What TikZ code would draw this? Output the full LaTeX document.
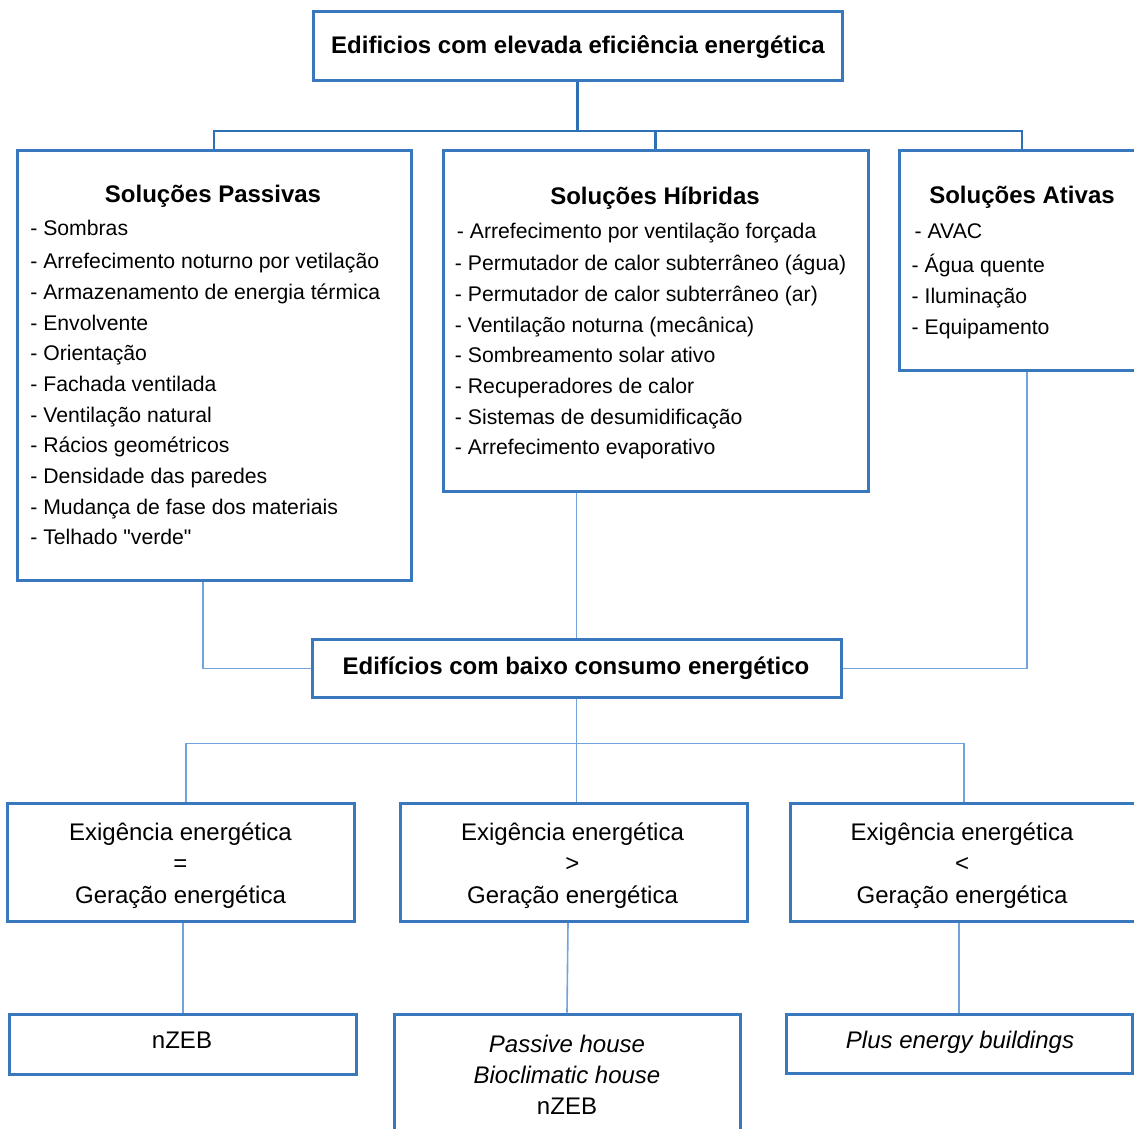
\documentclass[tikz,border=0pt]{standalone}
\usepackage{fontspec}
\setmainfont{Liberation Sans}
\newfontfamily\straightfont{Liberation Sans}

\tikzset{every picture/.style={line width=0.75pt}}
\tikzset{
  box/.style={draw={rgb, 255:red, 58; green, 120; blue, 190 }, line width=3pt, rectangle, inner sep=0pt},
  busline/.style={draw={rgb, 255:red, 46; green, 112; blue, 182 }, line width=2.5pt},
  thinline/.style={draw={rgb, 255:red, 112; green, 164; blue, 218 }, line width=1.6pt},
  head/.style={font=\bfseries\fontsize{24}{29}\selectfont, inner sep=0pt, anchor=base},
  items/.style={font=\fontsize{21.2}{30.7}\selectfont, inner sep=0pt, anchor=base west, align=left},
  plain/.style={font=\fontsize{24}{31.5}\selectfont, inner sep=0pt, anchor=base, align=center}
}

\begin{document}
\begin{tikzpicture}[x=1pt,y=1pt,yscale=-1,xscale=1]
\path[use as bounding box] (0,0) rectangle (1134,1128);
\clip (0,0) rectangle (1134,1128);

%Shape: Rectangle [top]
\node[box, minimum width=529pt, minimum height=69pt] (tbox) at (577.5,45.5) {};
%Shape: Rectangle [solucoes]
\node[box, minimum width=394pt, minimum height=430pt] (pbox) at (214,365) {};
\node[box, minimum width=425pt, minimum height=341pt] (hbox) at (655.5,320.5) {};
\node[box, minimum width=246pt, minimum height=220pt] (abox) at (1022,260) {};
%Shape: Rectangle [baixo consumo]
\node[box, minimum width=529pt, minimum height=58pt] (mbox) at (576.5,668.5) {};
%Shape: Rectangle [exigencia]
\node[box, minimum width=347pt, minimum height=118pt] (ebox1) at (181,862.5) {};
\node[box, minimum width=347pt, minimum height=118pt] (ebox2) at (573.5,862.5) {};
\node[box, minimum width=352pt, minimum height=118pt] (ebox3) at (966,862.5) {};
%Shape: Rectangle [resultados]
\node[box, minimum width=347pt, minimum height=60pt] (rbox1) at (183,1044) {};
\node[box, minimum width=346pt, minimum height=130pt] (rbox2) at (567,1079) {};
\node[box, minimum width=346pt, minimum height=59pt] (rbox3) at (959,1043.5) {};

% Text Node
\node[head] (ttxt) at (578,53) {Edificios com elevada eficiência energética};
% Text Node
\node[head] (ptitle) at (213,202) {Soluções Passivas};
% Text Node
\node[head] (htitle) at (655,204) {Soluções Híbridas};
% Text Node
\node[head] (atitle) at (1022,203) {Soluções Ativas};
% Text Node (base = last line)
\node[items] (plist) at (30,544.9) {- Sombras\\[2.3pt]
  - Arrefecimento noturno por vetilação\\
  - Armazenamento de energia térmica\\
  - Envolvente\\
  - Orientação\\
  - Fachada ventilada\\
  - Ventilação natural\\
  - Rácios geométricos\\
  - Densidade das paredes\\
  - Mudança de fase dos materiais\\
  - Telhado {\straightfont"}verde{\straightfont"}};
% Text Node
\node[items] (hlist) at (454.6,454.8) {\hspace*{2pt}- Arrefecimento por ventilação forçada\\[1.3pt]
  - Permutador de calor subterrâneo (água)\\
  - Permutador de calor subterrâneo (ar)\\
  - Ventilação noturna (mecânica)\\
  - Sombreamento solar ativo\\
  - Recuperadores de calor\\
  - Sistemas de desumidificação\\
  - Arrefecimento evaporativo};
% Text Node
\node[items] (alist) at (911.3,334) {\hspace*{3pt}- AVAC\\[3.3pt]
  - Água quente\\
  - Iluminação\\
  - Equipamento};
% Text Node
\node[head] (mtxt) at (576,674) {Edifícios com baixo consumo energético};
% Text Node
\node[plain] (e1txt) at (180.5,903) {Exigência energética\\=\\Geração energética};
\node[plain] (e2txt) at (572.5,903) {Exigência energética\\>\\Geração energética};
\node[plain] (e3txt) at (962,903) {Exigência energética\\<\\Geração energética};
% Text Node
\node[plain] (r1txt) at (182,1048) {nZEB};
\node[plain, font=\fontsize{24}{31}\selectfont] (r2txt) at (567,1114) {\textit{Passive house}\\\textit{Bioclimatic house}\\nZEB};
\node[plain] (r3txt) at (960,1048) {\textit{Plus energy buildings}};

% Connectors top
\coordinate (tbus) at (577.5,131);
\draw[busline] (tbox.south) -- (tbus);
\draw[busline] (pbox.north) |- (abox.north |- tbus) -- (abox.north);
\draw[busline] (hbox.north) -- (hbox.north |- tbus);

% Connectors middle
\draw[thinline] ([xshift=-11pt]pbox.south) |- (mbox.west);
\draw[thinline] ([xshift=5pt]abox.south) |- (mbox.east);
\draw[thinline] (mbox.north) -- (mbox.north |- hbox.south);

% Connectors lower
\coordinate (lbus) at (578,743.5);
\draw[thinline] (mbox.south) -- (mbox.south |- ebox2.north);
\draw[thinline] ([xshift=5pt]ebox1.north) |- (lbus) -| ([xshift=-2pt]ebox3.north);

% Connectors bottom
\draw[thinline] (rbox1.north) -- (rbox1.north |- ebox1.south);
\draw[thinline] ([xshift=-5.5pt]ebox2.south) -- (rbox2.north);
\draw[thinline] (rbox3.north) -- (rbox3.north |- ebox3.south);

\end{tikzpicture}
\end{document}
